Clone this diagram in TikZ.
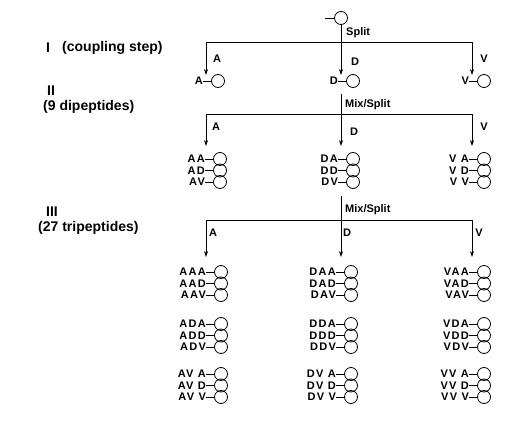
\documentclass[tikz,border=0pt]{standalone}
\usepackage{fontspec}
\setmainfont{Liberation Sans}
\newfontfamily\beadfont[LetterSpace=12]{Liberation Sans}
\usetikzlibrary{arrows.meta}
\newcommand{\mybead}[4]{%
  \node[bead] (#1) at (#2,#3) {};
  \coordinate (#1d) at ([xshift=-8pt]#1.west);
  \node[seq] (#1t) at (#1d) {#4};
  \draw[line] (#1d) -- (#1.west);
}
\begin{document}
\begin{tikzpicture}[x=1pt,y=-1pt,
  line/.style={line width=0.9pt},
  arr/.style={line width=0.9pt,-{Stealth[length=6pt,width=4.2pt]}},
  bead/.style={circle,draw,line width=0.8pt,minimum size=13pt,inner sep=0pt},
  seq/.style={font=\fontsize{11}{11}\beadfont\bfseries,inner sep=0pt,anchor=east},
  lab/.style={font=\fontsize{11}{11}\selectfont\bfseries,inner sep=0pt},
  side/.style={font=\fontsize{14}{14}\selectfont\bfseries,inner sep=0pt,anchor=west}]
\useasboundingbox (0,0) rectangle (522,433);

% side labels
\node[side] (s1a) at (46,48) {I};
\node[side] (s1b) at (62,48) {(coupling step)};
\node[side] (s2a) at (47,91) {II};
\node[side] (s2b) at (43,107) {(9 dipeptides)};
\node[side] (s3a) at (46,212) {III};
\node[side] (s3b) at (38,228) {(27 tripeptides)};

% top bead
\node[bead] (top) at (341,18) {};
\coordinate (topstub) at (325,18);
\draw[line] (topstub) -- (top.west);

% ---- level I ----
\node[lab,anchor=west] (split) at (346,33) {Split};
\coordinate (h1) at (341,42);
\coordinate (tA1) at (206,75);
\coordinate (tD1) at (341,75);
\coordinate (tV1) at (472,75);
\draw[arr] (top.south) -- (tD1);
\draw[arr] (h1) -| (tA1);
\draw[arr] (h1) -| (tV1);
\node[lab] (lA1) at (217,59) {A};
\node[lab] (lD1) at (355,62) {D};
\node[lab] (lV1) at (484,59) {V};
\mybead{a1}{218}{81}{A}
\mybead{d1}{353}{81}{D}
\mybead{v1}{484}{81}{V}

% ---- level II ----
\coordinate (m2) at (341,94);
\node[lab,anchor=west] (mix2) at (345,105) {Mix/Split};
\coordinate (h2) at (341,114);
\coordinate (tA2) at (206,146);
\coordinate (tD2) at (341,146);
\coordinate (tV2) at (472,146);
\draw[arr] (m2) -- (tD2);
\draw[arr] (h2) -| (tA2);
\draw[arr] (h2) -| (tV2);
\node[lab] (lA2) at (216,127) {A};
\node[lab] (lD2) at (354,132) {D};
\node[lab] (lV2) at (484,127) {V};
\mybead{aa}{220}{159}{AA}
\mybead{ad}{220}{170.5}{AD}
\mybead{av}{220}{182}{AV}
\mybead{da}{353}{159}{DA}
\mybead{dd}{353}{170.5}{DD}
\mybead{dv}{353}{182}{DV}
\mybead{va}{484}{159}{V A}
\mybead{vd}{484}{170.5}{V D}
\mybead{vv}{484}{182}{V V}

% ---- level III ----
\coordinate (m3) at (341,196);
\node[lab,anchor=west] (mix3) at (345,210) {Mix/Split};
\coordinate (h3) at (341,220);
\coordinate (tA3) at (206,257);
\coordinate (tD3) at (341,257);
\coordinate (tV3) at (472,257);
\draw[arr] (m3) -- (tD3);
\draw[arr] (h3) -| (tA3);
\draw[arr] (h3) -| (tV3);
\node[lab] (lA3) at (213,233) {A};
\node[lab] (lD3) at (347,233) {D};
\node[lab] (lV3) at (479,233) {V};

\foreach \cx/\p [count=\i] in {221/A,351/D,484/V} {
  \foreach \gy/\q/\s [count=\j] in {272/A/\relax,324/D/\relax,374/V/\space} {
    \foreach \dy/\r [count=\k] in {0/A,11.5/D,23/V} {
      \mybead{t\i\j\k}{\cx}{\gy+\dy}{\p\q\s\r}
    }
  }
}
\end{tikzpicture}
\end{document}
